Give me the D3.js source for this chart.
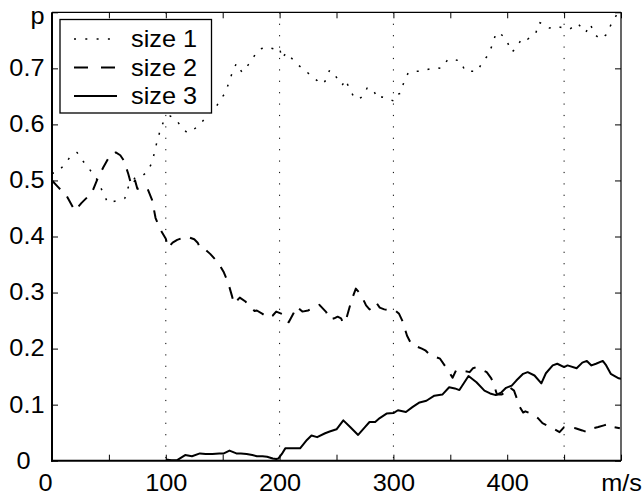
<!DOCTYPE html>
<html>
<head>
<meta charset="utf-8">
<script src="https://cdn.jsdelivr.net/npm/d3@7"></script>
<style>
  body { margin: 0; background: #fff; }
  svg { display: block; }
  text { font-family: "Liberation Sans", Arial, sans-serif; }
</style>
</head>
<body>
<div id="chart"></div>
<script>
// speed (m/s) and p
const size1 = [[0,0.513],[4,0.514],[10,0.526],[16,0.542],[22,0.550],[27,0.535],[33,0.520],[39,0.503],
  [45,0.478],[49,0.460],[57,0.464],[64,0.468],[67,0.488],[73,0.505],[79,0.508],[83,0.514],[88,0.532],
  [90,0.550],[92,0.567],[95,0.589],[98,0.605],[101,0.612],[104,0.615],[110,0.606],[114,0.594],[119,0.585],
  [124,0.590],[130,0.600],[135,0.612],[139,0.624],[144,0.630],[148,0.645],[152,0.655],[155,0.672],
  [158,0.690],[162,0.709],[167,0.693],[172,0.705],[177,0.720],[182,0.734],[189,0.738],[196,0.734],
  [200,0.736],[202,0.718],[206,0.728],[212,0.715],[217,0.705],[220,0.700],[226,0.690],[233,0.678],
  [235,0.672],[240,0.677],[244,0.697],[250,0.684],[255,0.670],[258,0.680],[261,0.665],[266,0.646],
  [270,0.646],[273,0.650],[277,0.665],[282,0.663],[286,0.646],[290,0.649],[295,0.646],[300,0.642],
  [303,0.654],[306,0.655],[309,0.674],[313,0.692],[319,0.695],[324,0.695],[332,0.699],[338,0.701],
  [342,0.700],[348,0.716],[353,0.716],[359,0.713],[363,0.695],[370,0.695],[374,0.695],[378,0.711],
  [383,0.723],[387,0.742],[390,0.762],[393,0.764],[399,0.752],[404,0.729],[408,0.736],[413,0.754],
  [418,0.752],[425,0.762],[428,0.782],[434,0.777],[437,0.772],[444,0.775],[449,0.772],[455,0.770],
  [462,0.780],[469,0.764],[473,0.779],[477,0.760],[482,0.752],[487,0.760],[491,0.777],[496,0.795],[499,0.790]];

const size2 = [[0,0.500],[5,0.489],[13,0.472],[20,0.446],[26,0.460],[31,0.470],[36,0.483],[40,0.503],
  [45,0.523],[51,0.545],[56,0.550],[60,0.545],[63,0.536],[67,0.512],[70,0.490],[73,0.500],[75,0.485],
  [80,0.488],[84,0.485],[88,0.465],[91,0.433],[95,0.413],[100,0.396],[102,0.380],[106,0.389],[110,0.394],
  [114,0.397],[118,0.400],[121,0.398],[125,0.395],[128,0.389],[130,0.380],[134,0.378],[139,0.369],
  [143,0.360],[147,0.350],[151,0.336],[155,0.316],[158,0.295],[160,0.280],[165,0.291],[170,0.284],
  [174,0.275],[178,0.267],[180,0.268],[185,0.262],[190,0.255],[194,0.259],[197,0.266],[202,0.262],
  [205,0.251],[208,0.247],[212,0.262],[215,0.275],[220,0.266],[225,0.268],[229,0.272],[235,0.278],
  [241,0.265],[244,0.252],[248,0.254],[251,0.257],[254,0.254],[256,0.245],[259,0.256],[263,0.285],
  [267,0.307],[270,0.300],[272,0.294],[276,0.277],[279,0.270],[282,0.273],[285,0.282],[288,0.273],
  [292,0.270],[295,0.269],[301,0.269],[305,0.262],[308,0.249],[312,0.223],[316,0.207],[320,0.204],
  [325,0.200],[328,0.197],[331,0.191],[336,0.186],[341,0.182],[345,0.170],[349,0.158],[352,0.148],
  [355,0.161],[357,0.162],[362,0.160],[367,0.158],[370,0.165],[373,0.167],[377,0.163],[382,0.158],
  [386,0.147],[389,0.131],[391,0.118],[395,0.118],[398,0.122],[402,0.131],[406,0.125],[409,0.108],
  [411,0.096],[414,0.086],[416,0.088],[421,0.084],[427,0.076],[431,0.067],[435,0.063],[440,0.058],
  [446,0.051],[450,0.060],[453,0.060],[460,0.058],[466,0.054],[470,0.051],[474,0.057],[480,0.060],
  [485,0.063],[490,0.066],[494,0.060],[499,0.058]];

const size3 = [[100,0.002],[105,0.001],[110,0.001],[117,0.010],[123,0.008],[130,0.013],[135,0.012],
  [141,0.012],[147,0.013],[151,0.013],[156,0.018],[162,0.013],[166,0.013],[171,0.012],[176,0.010],
  [180,0.008],[185,0.008],[189,0.007],[194,0.004],[197,0.003],[199,0.004],[202,0.012],[205,0.022],
  [212,0.022],[218,0.022],[224,0.037],[228,0.045],[233,0.042],[240,0.049],[244,0.052],[250,0.056],
  [256,0.072],[262,0.060],[269,0.046],[275,0.060],[279,0.069],[284,0.069],[288,0.076],[294,0.084],
  [300,0.085],[304,0.090],[311,0.087],[317,0.096],[323,0.104],[329,0.107],[336,0.116],[343,0.118],
  [349,0.131],[354,0.129],[358,0.126],[366,0.151],[373,0.140],[380,0.125],[385,0.120],[390,0.117],
  [395,0.122],[399,0.130],[404,0.134],[408,0.143],[414,0.155],[418,0.158],[424,0.152],[430,0.138],
  [434,0.156],[440,0.170],[444,0.173],[450,0.167],[453,0.170],[461,0.165],[466,0.175],[470,0.178],
  [474,0.170],[478,0.173],[484,0.178],[487,0.170],[491,0.155],[498,0.147],[500,0.146]];

const seriesNames = ["size 1", "size 2", "size 3"];
const xTicks = [0, 50, 100, 150, 200, 250, 300, 350, 400, 450, 500];
const xLabels = { 0: "0", 100: "100", 200: "200", 300: "300", 400: "400", 500: "m/s" };
const yTicks = [0, 0.1, 0.2, 0.3, 0.4, 0.5, 0.6, 0.7, 0.8];
const yLabels = ["0", "0.1", "0.2", "0.3", "0.4", "0.5", "0.6", "0.7", "p"];
const gridX = [100, 200, 300, 450];

const W = 642, H = 495;
const margin = { top: 12.3, right: 21, bottom: 34.3, left: 52 },
  width = W - margin.left - margin.right,
  height = H - margin.top - margin.bottom;
const sx = 1.1; // labels in the picture are a little wider than tall

const svg = d3.select("#chart").append("svg")
  .attr("width", W).attr("height", H);
const g = svg.append("g")
  .attr("transform", `translate(${margin.left},${margin.top})`);

const x = d3.scaleLinear().domain([0, 500]).range([0, width]);
const y = d3.scaleLinear().domain([0, 0.8]).range([height, 0]);

g.append("clipPath").attr("id", "clip")
  .append("rect").attr("width", width).attr("height", height);

// dotted grid lines
g.selectAll(".grid").data(gridX).enter().append("line")
  .attr("x1", d => x(d)).attr("x2", d => x(d))
  .attr("y1", 0).attr("y2", height)
  .attr("stroke", "#000").attr("stroke-width", 1)
  .attr("stroke-dasharray", "1.2,10.2");

const line = d3.line().x(d => x(d[0])).y(d => y(d[1]));
const styles = [
  { dash: "2,9", w: 1.5 },
  { dash: "12,10", w: 2 },
  { dash: null, w: 2 }
];

const plot = g.append("g").attr("clip-path", "url(#clip)");
[size1, size2, size3].forEach((s, i) => {
  plot.append("path")
    .datum(s)
    .attr("d", line)
    .attr("fill", "none")
    .attr("stroke", "#000")
    .attr("stroke-width", styles[i].w)
    .attr("stroke-dasharray", styles[i].dash)
    .attr("stroke-linejoin", "round");
});

// axes, ticks inward on all four sides
function styleAxis(sel) {
  sel.select(".domain").remove();
  sel.selectAll(".tick line").attr("stroke", "#000").attr("stroke-width", 1);
  sel.selectAll("text")
    .style("font-size", "23px")
    .attr("fill", "#000");
}

const xAxis = g.append("g")
  .attr("transform", `translate(0,${height})`)
  .call(d3.axisBottom(x).tickValues(xTicks).tickSizeInner(-6).tickSizeOuter(0).tickPadding(13.5)
    .tickFormat(d => xLabels[d] || ""))
  .call(styleAxis);
xAxis.selectAll("text")
  .attr("transform", d => `translate(${d === 0 ? -7 : 0},0) scale(${sx},1)`);

const yAxis = g.append("g")
  .call(d3.axisLeft(y).tickValues(yTicks).tickSizeInner(-6).tickSizeOuter(0).tickPadding(7.5)
    .tickFormat((d, i) => yLabels[i]))
  .call(styleAxis);
yAxis.selectAll("text")
  .attr("x", null)
  .attr("transform", (d, i) => `translate(${i === 0 ? -21.5 : -7.5},${i === 8 ? 4 : 0}) scale(${sx},1)`);

g.append("g")
  .call(d3.axisTop(x).tickValues(xTicks).tickSizeInner(-6).tickSizeOuter(0).tickFormat(""))
  .call(styleAxis);
g.append("g")
  .attr("transform", `translate(${width},0)`)
  .call(d3.axisRight(y).tickValues(yTicks).tickSizeInner(-6).tickSizeOuter(0).tickFormat(""))
  .call(styleAxis);

// box
g.append("line").attr("x1", 0).attr("x2", width).attr("y1", 0).attr("y2", 0)
  .attr("stroke", "#000").attr("stroke-width", 1.2);
g.append("line").attr("x1", width).attr("x2", width).attr("y1", 0).attr("y2", height)
  .attr("stroke", "#000").attr("stroke-width", 1.2);
g.append("line").attr("x1", 0).attr("x2", 0).attr("y1", 0).attr("y2", height + 1)
  .attr("stroke", "#000").attr("stroke-width", 2);
g.append("line").attr("x1", -1).attr("x2", width).attr("y1", height).attr("y2", height)
  .attr("stroke", "#000").attr("stroke-width", 2);

// legend
const legend = svg.append("g").attr("transform", "translate(60,19.5)");
legend.append("rect")
  .attr("width", 151.5).attr("height", 93.5)
  .attr("fill", "#fff").attr("stroke", "#000").attr("stroke-width", 1.3);
const legendDash = ["2,9.3", "14,13", null];
seriesNames.forEach((name, i) => {
  const cy = 19.5 + i * 28.5;
  legend.append("line")
    .attr("x1", 14).attr("x2", 57)
    .attr("y1", cy).attr("y2", cy)
    .attr("stroke", "#000")
    .attr("stroke-width", styles[i].w)
    .attr("stroke-dasharray", legendDash[i]);
  legend.append("text")
    .attr("transform", `translate(71,${cy}) scale(${sx},1)`)
    .attr("dy", "0.35em")
    .style("font-size", "23px")
    .text(name);
});
</script>
</body>
</html>
